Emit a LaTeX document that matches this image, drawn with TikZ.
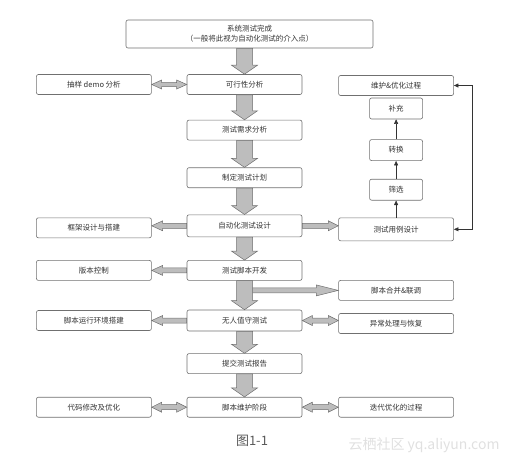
\documentclass[tikz,border=0pt]{standalone}
\usepackage{fontspec}
\setmainfont{Noto Sans CJK SC}
\definecolor{Ink}{HTML}{333333}
\definecolor{Edge}{HTML}{707070}
\definecolor{ArrowFill}{HTML}{BDBDBD}
\definecolor{ArrowEdge}{HTML}{6E6E6E}
\usetikzlibrary{arrows.meta,positioning,calc}

% fat downward arrow between two stacked boxes
\newcommand{\vblock}[2]{%
  \path[blockarrow] let \p1=(#1.south), \p2=(#2.north) in
    (\x2-8pt,\y1) -- (\x2+8pt,\y1) -- (\x2+8pt,\y2+9pt) -- (\x2+13pt,\y2+9pt)
    -- (\x2,\y2) -- (\x2-13pt,\y2+9pt) -- (\x2-8pt,\y2+9pt) -- cycle;}
% fat sideways arrow: start, end, shaft half, head half, head length
\newcommand{\hblock}[6][blockarrow]{%
  \path[#1] let \p1=#2, \p2=#3, \n1={(\x2-\x1)/abs(\x2-\x1)} in
    (\x1,\y1-#4) -- ({\x2-\n1*#6},\y1-#4) -- ({\x2-\n1*#6},\y1-#5) -- (\x2,\y1)
    -- ({\x2-\n1*#6},\y1+#5) -- ({\x2-\n1*#6},\y1+#4) -- (\x1,\y1+#4) -- cycle;}
% same, with a head at both ends
\newcommand{\hdouble}[6][blockarrow]{%
  \path[#1] let \p1=#2, \p2=#3, \n1={(\x2-\x1)/abs(\x2-\x1)} in
    (\x1,\y1) -- ({\x1+\n1*#6},\y1+#5) -- ({\x1+\n1*#6},\y1+#4) -- ({\x2-\n1*#6},\y1+#4)
    -- ({\x2-\n1*#6},\y1+#5) -- (\x2,\y1) -- ({\x2-\n1*#6},\y1-#5) -- ({\x2-\n1*#6},\y1-#4)
    -- ({\x1+\n1*#6},\y1-#4) -- ({\x1+\n1*#6},\y1-#5) -- cycle;}

\begin{document}
\begin{tikzpicture}[x=1pt,y=-1pt,
  box/.style={draw=Edge,fill=white,rounded corners=2pt,line width=0.6pt,minimum width=115pt,minimum height=20pt,inner sep=1pt,align=center,font=\fontsize{7.5}{10}\selectfont,text=Ink},
  smallbox/.style={box,minimum width=53pt,minimum height=21pt},
  blockarrow/.style={fill=ArrowFill,draw=ArrowEdge,line width=0.5pt},
  linkarrow/.style={draw=Ink,line width=0.5pt,-{Triangle[length=4.5pt,width=4pt]}}
]
\useasboundingbox (0,0) rectangle (512,464);

% main column
\node[box,minimum width=247pt,minimum height=28pt] (sysdone) at (249.5,34) {系统测试完成\\（一般将此视为自动化测试的介入点）};
\node[box] (feas) at (244.5,84.5) {可行性分析};
\node[box,below=25pt of feas] (req) {测试需求分析};
\node[box,below=27pt of req] (plan) {制定测试计划};
\node[box,below=26.5pt of plan,minimum height=22pt] (autodesign) {自动化测试设计};
\node[box,below=23pt of autodesign] (scriptdev) {测试脚本开发};
\node[box,below=29pt of scriptdev,minimum height=21pt] (unattended) {无人值守测试};
\node[box,below=22pt of unattended] (report) {提交测试报告};
\node[box,below=23pt of report] (maint) {脚本维护阶段};

% left column
\node[box,left=35pt of feas] (demo) {抽样 demo 分析};
\node[box,left=35pt of autodesign,yshift=-2pt] (frame) {框架设计与搭建};
\node[box,left=35pt of scriptdev] (version) {版本控制};
\node[box,left=35pt of unattended] (runenv) {脚本运行环境搭建};
\node[box,left=35pt of maint] (modify) {代码修改及优化};

% right column
\node[box,right=36pt of feas,yshift=-1pt] (keep) {维护\&优化过程};
\node[box,right=36pt of autodesign,yshift=-3.5pt,minimum height=23pt] (tcase) {测试用例设计};
\node[smallbox,above=17pt of tcase] (filter) {筛选};
\node[smallbox,above=18pt of filter] (convert) {转换};
\node[smallbox,above=20pt of convert] (supplement) {补充};
\node[box,below=39pt of tcase] (merge) {脚本合并\&联调};
\node[box,right=36pt of unattended,yshift=-3pt] (except) {异常处理与恢复};
\node[box,right=36pt of maint] (iterate) {迭代优化的过程};

% thin arrows on the right
\draw[linkarrow] (tcase) -- (filter);
\draw[linkarrow] (filter) -- (convert);
\draw[linkarrow] (convert) -- (supplement);
\draw[linkarrow,{Triangle[length=4.5pt,width=4pt]}-{Triangle[length=4.5pt,width=4pt]}] (tcase.east) -- ++(18,0) |- (keep.east);

% fat arrows
\coordinate[xshift=7pt] (mstart) at (merge.west -| scriptdev.south);
\hblock{(mstart)}{(merge.west)}{2.5pt}{5.5pt}{22pt}
\foreach \a/\b in {sysdone/feas,feas/req,req/plan,plan/autodesign,autodesign/scriptdev,scriptdev/unattended,unattended/report,report/maint}
  {\vblock{\a}{\b}}
\hdouble{(feas.west)}{(demo.east)}{2pt}{4.5pt}{10pt}
\hblock{(autodesign.west)}{(frame.east)}{2.5pt}{5pt}{11pt}
\hblock{(autodesign.east)}{(tcase.west)}{2.5pt}{5pt}{10pt}
\hblock{(scriptdev.west)}{(version.east)}{2.5pt}{5pt}{11pt}
\hblock{(unattended.west)}{(runenv.east)}{2.5pt}{5pt}{11pt}
\hdouble{(unattended.east)}{(except.west)}{2.5pt}{5pt}{10pt}
\hdouble{(maint.west)}{(modify.east)}{2.5pt}{5pt}{10pt}
\hdouble{(maint.east)}{(iterate.west)}{2.5pt}{5pt}{10pt}

% caption and watermark
\node[font=\fontsize{13}{15}\selectfont,text=black!65] (caption) at (252,441) {图1-1};
\node[font=\fontsize{14}{16}\selectfont,text=black!12,anchor=east] (mark) at (503,445) {云栖社区 yq.aliyun.com};
\end{tikzpicture}
\end{document}
